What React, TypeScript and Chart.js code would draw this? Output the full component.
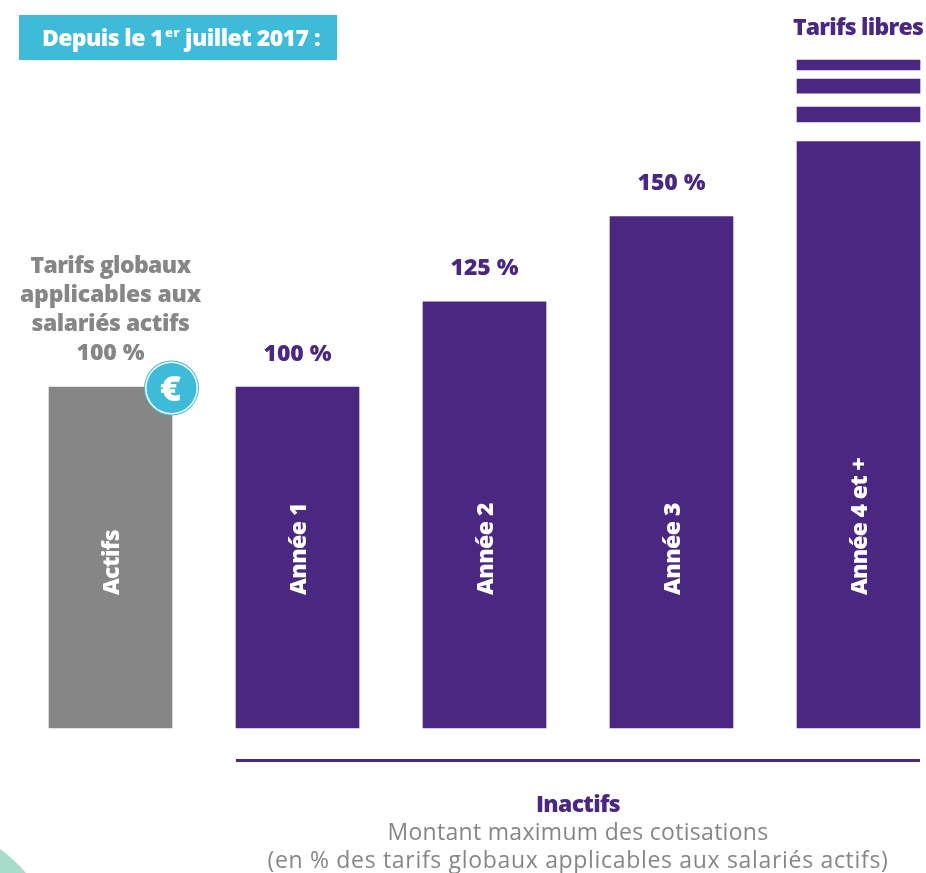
import React, { useEffect, useRef } from "react";
import { Chart, registerables } from "chart.js";

Chart.register(...registerables);

const categories = ["Actifs", "Année 1", "Année 2", "Année 3", "Année 4 et +"];
const values = [100, 100, 125, 150, 172];
const valueLabels = ["", "100 %", "125 %", "150 %", ""];
const stripeLow = [177.7, 186.2, 193];
const stripeHigh = [182.1, 190.3, 195.9];
const actifsLines = ["Tarifs globaux", "applicables aux", "salariés actifs", "100 %"];
const actifsWidths = [160, 181, 158, 68];
const categoryWidths = [65, 92, 92, 92, 137];
const PURPLE = "#4a2882";
const GRAY = "#868686";
const TEAL = "#3dbbd8";
const FONT = "'Open Sans'";

function text(ctx: CanvasRenderingContext2D, s: string, x: number, y: number, size: number, weight: string, color: string, align: CanvasTextAlign, width: number) {
  ctx.font = `${weight} ${size}px ${FONT}, sans-serif`;
  (ctx as any).letterSpacing = "0px";
  const natural = ctx.measureText(s).width;
  (ctx as any).letterSpacing = `${(width - natural) / s.length}px`;
  ctx.fillStyle = color;
  ctx.textAlign = align;
  ctx.textBaseline = "alphabetic";
  ctx.fillText(s, x, y);
  (ctx as any).letterSpacing = "0px";
}

const annotations = {
  id: "annotations",
  beforeDatasetsDraw(chart: any) {
    const ctx = chart.ctx;
    ctx.save();
    ctx.fillStyle = "#a6dcc9";
    ctx.beginPath();
    ctx.moveTo(0, 849);
    ctx.quadraticCurveTo(14, 859, 26, 873);
    ctx.lineTo(0, 873);
    ctx.closePath();
    ctx.fill();
    ctx.fillStyle = TEAL;
    ctx.fillRect(19, 15, 318, 45);
    text(ctx, "Depuis le 1", 42, 45.5, 23, "800", "#fff", "left", 121);
    text(ctx, "er", 165, 37, 13, "800", "#fff", "left", 15);
    text(ctx, "juillet 2017 :", 185, 45.5, 23, "800", "#fff", "left", 135);
    ctx.restore();
  },
  afterDatasetsDraw(chart: any) {
    const ctx = chart.ctx;
    const bars = chart.getDatasetMeta(0).data;
    ctx.save();
    bars.forEach((bar: any, i: number) => {
      if (valueLabels[i]) text(ctx, valueLabels[i], bar.x, bar.y - 26.5, 23, "800", PURPLE, "center", 68);
      ctx.save();
      ctx.translate(bar.x, 595);
      ctx.rotate(-Math.PI / 2);
      text(ctx, categories[i], 0, 8, 23, "800", "#fff", "left", categoryWidths[i]);
      ctx.restore();
    });
    const a = bars[0];
    actifsLines.forEach((s, i) => text(ctx, s, a.x, 272.5 + i * 29, 23, "800", GRAY, "center", actifsWidths[i]));
    const cx = a.x + 61, cy = a.y + 1;
    ctx.fillStyle = TEAL;
    ctx.beginPath(); ctx.arc(cx, cy, 27.5, 0, Math.PI * 2); ctx.fill();
    ctx.fillStyle = "#fff";
    ctx.beginPath(); ctx.arc(cx, cy, 26.5, 0, Math.PI * 2); ctx.fill();
    ctx.fillStyle = TEAL;
    ctx.beginPath(); ctx.arc(cx, cy, 25, 0, Math.PI * 2); ctx.fill();
    text(ctx, "€", cx, cy + 13, 36, "800", "#fff", "center", 23);
    const last = bars[4];
    text(ctx, "Tarifs libres", last.x - 0.5, 34.5, 23, "800", PURPLE, "center", 130);
    ctx.fillStyle = PURPLE;
    ctx.fillRect(236, 759, 684, 3);
    text(ctx, "Inactifs", 578, 811.5, 23, "800", PURPLE, "center", 84);
    text(ctx, "Montant maximum des cotisations", 578, 840, 23, "400", GRAY, "center", 381);
    text(ctx, "(en % des tarifs globaux applicables aux salariés actifs)", 578, 868, 23, "400", GRAY, "center", 621);
    ctx.restore();
  },
};

export default function App() {
  const ref = useRef<HTMLCanvasElement>(null);
  useEffect(() => {
    document.body.style.margin = "0";
    const stripes = stripeLow.map((low, i) => ({
      label: `Tarifs libres ${i + 1}`,
      data: categories.map((_, c) => (c === 4 ? [low, stripeHigh[i]] : null)),
      backgroundColor: PURPLE,
      grouped: false,
      barThickness: 123,
      clip: false,
    }));
    const chart = new Chart(ref.current!, {
      type: "bar",
      data: {
        labels: categories,
        datasets: [
          {
            label: "Montant maximum",
            data: values,
            backgroundColor: categories.map((_, i) => (i === 0 ? GRAY : PURPLE)),
            grouped: false,
            barThickness: 123,
            clip: false,
          },
          ...stripes,
        ] as any,
      },
      options: {
        animation: false,
        responsive: false,
        devicePixelRatio: 1,
        layout: { padding: { left: 110.5, right: 67.5, top: 0, bottom: 145 } },
        plugins: { legend: { display: false }, tooltip: { enabled: false } },
        scales: {
          x: { display: false, offset: false },
          y: { display: false, min: 0, max: 213.49 },
        },
      },
      plugins: [annotations],
    });
    return () => chart.destroy();
  }, []);
  return (
    <div style={{ position: "absolute", left: 0, top: 0, width: 926, height: 873, overflow: "hidden", background: "#fff" }}>
      <canvas ref={ref} width={926} height={873} style={{ display: "block" }} />
    </div>
  );
}
